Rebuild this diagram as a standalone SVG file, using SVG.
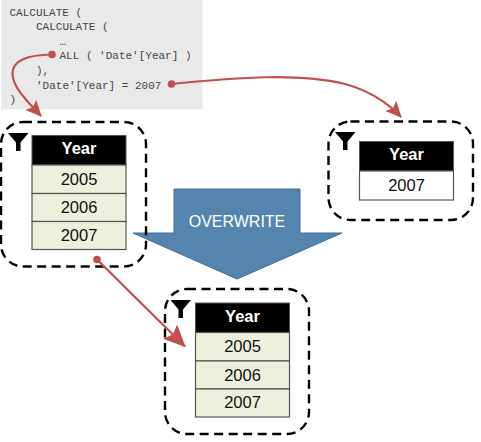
<svg xmlns="http://www.w3.org/2000/svg" width="481" height="442" viewBox="0 0 481 442">
<style>
.frame{fill:none;stroke:#000;stroke-width:2.4;stroke-dasharray:9 5.5}
.head{fill:#000;stroke:#555;stroke-width:1}
.row{fill:#edf0dd;stroke:#555;stroke-width:1.2}
.plain{fill:#fff;stroke:#555;stroke-width:1.2}
.th{font:bold 16.5px "Liberation Sans",Arial,sans-serif;fill:#fff;text-anchor:middle}
.td{font:16.5px "Liberation Sans",Arial,sans-serif;fill:#111;text-anchor:middle}
.code{font:11px "Liberation Mono","Courier New",monospace;fill:#444;white-space:pre}
.wire{fill:none;stroke:#c0504d;stroke-width:2.2}
.dot{fill:#c0504d}
</style>
<defs>
<marker id="arrow" viewBox="0 0 16 16" refX="15" refY="8" markerWidth="16" markerHeight="16" markerUnits="userSpaceOnUse" orient="auto"><path d="M0 0.500L16 8L0 15.500L3 8Z" fill="#c0504d"/></marker>
<marker id="arrow-large" viewBox="0 0 22 22" refX="21" refY="11" markerWidth="22" markerHeight="22" markerUnits="userSpaceOnUse" orient="auto"><path d="M0 1L22 11L0 21L4 11Z" fill="#c0504d"/></marker>
<path id="funnel" d="M0 0H20.500L12.500 9.500V18H8V9.500Z" fill="#000"/>
</defs>
<g id="code">
<rect x="1" y="0" width="201.500" height="109.500" fill="#e9e9e9"/>
<text class="code" x="9.500" y="16">CALCULATE (</text>
<text class="code" x="36" y="30">CALCULATE (</text>
<text class="code" x="59.500" y="45">…</text>
<text class="code" x="59.500" y="59">ALL ( 'Date'[Year] )</text>
<text class="code" x="36" y="74">),</text>
<text class="code" x="36" y="89">'Date'[Year] = 2007</text>
<text class="code" x="9.500" y="103">)</text>
</g>
<g id="overwrite">
<path d="M174 189H300V233H342L237 279L133 233H174Z" fill="#5585ae" stroke="#3f6d93" stroke-width="1"/>
<text x="237" y="227" font-family="'Liberation Sans',Arial,sans-serif" font-size="16" fill="#fff" text-anchor="middle">OVERWRITE</text>
</g>
<g id="filter-left">
<rect class="frame" x="1" y="122" width="145" height="144.500" rx="22"/>
<use href="#funnel" x="8" y="133"/>
<rect class="head" x="32" y="135.500" width="94" height="29.500"/>
<text class="th" x="79" y="154">Year</text>
<rect class="row" x="32" y="165" width="94" height="28.500"/><text class="td" x="79" y="184.500">2005</text>
<rect class="row" x="32" y="193.500" width="94" height="28"/><text class="td" x="79" y="213">2006</text>
<rect class="row" x="32" y="221.500" width="94" height="28"/><text class="td" x="79" y="240.500">2007</text>
</g>
<g id="filter-right">
<rect class="frame" x="328.500" y="121.500" width="144.500" height="98.500" rx="22"/>
<use href="#funnel" x="335" y="132"/>
<rect class="head" x="359.500" y="141.500" width="94" height="29.500"/>
<text class="th" x="406.500" y="160">Year</text>
<rect class="plain" x="359.500" y="171" width="94" height="29"/><text class="td" x="406.500" y="190.500">2007</text>
</g>
<g id="filter-result">
<rect class="frame" x="165" y="289" width="144" height="145" rx="22"/>
<use href="#funnel" x="170.500" y="300"/>
<rect class="head" x="195.500" y="303" width="94" height="29.500"/>
<text class="th" x="242.500" y="321.500">Year</text>
<rect class="row" x="195.500" y="332.500" width="94" height="28.500"/><text class="td" x="242.500" y="352">2005</text>
<rect class="row" x="195.500" y="361" width="94" height="28"/><text class="td" x="242.500" y="380.500">2006</text>
<rect class="row" x="195.500" y="389" width="94" height="28"/><text class="td" x="242.500" y="408">2007</text>
</g>
<g id="connectors">
<path class="wire" d="M52 54.500C28 55 12 60 12.500 74C13 88 28 102 41 116" marker-end="url(#arrow)"/>
<circle class="dot" cx="52" cy="54.500" r="3.800"/>
<path class="wire" d="M171.500 84C240 77 300 73 345 84C370 91 388 103 401 117" marker-end="url(#arrow)"/>
<circle class="dot" cx="171.500" cy="84" r="3.800"/>
<path class="wire" d="M97 259.500L185 346.500" marker-end="url(#arrow-large)"/>
<circle class="dot" cx="97" cy="259.500" r="3.800"/>
</g>
</svg>
